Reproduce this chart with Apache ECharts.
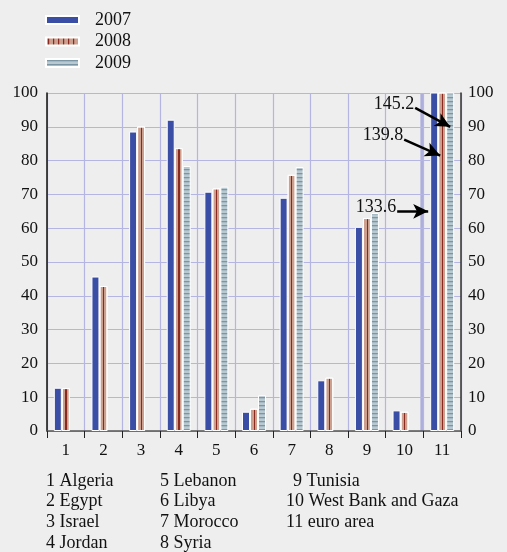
<!DOCTYPE html>
<html>
<head>
<meta charset="utf-8">
<script src="https://cdn.jsdelivr.net/npm/echarts@6/dist/echarts.min.js"></script>
<style>
  html, body { margin: 0; padding: 0; background: #eeeeee; }
  #chart { width: 507px; height: 552px; }
</style>
</head>
<body>
<div id="chart"></div>
<script>
const categories = ['1', '2', '3', '4', '5', '6', '7', '8', '9', '10', '11'];
const years = ['2007', '2008', '2009'];
const values2007 = [12.8, 45.7, 88.6, 92.1, 70.8, 5.7, 69.0, 15.0, 60.4, 6.1, 133.6];
const values2008 = [12.7, 42.9, 90.1, 83.7, 71.8, 6.6, 75.8, 15.8, 63.0, 5.7, 139.8];
const values2009 = [null, null, null, 78.4, 72.3, 10.6, 78.1, null, 64.5, null, 145.2];
const countryNames = ['Algeria', 'Egypt', 'Israel', 'Jordan', 'Lebanon', 'Libya', 'Morocco',
    'Syria', 'Tunisia', 'West Bank and Gaza', 'euro area'];

const FONT = 'Liberation Serif';
const BLUE = '#3b4ea5';
const PINK = '#cc9f8e';
const RED = '#8a2a1e';
const GREY = '#b9c9d1';
const GREY_LINE = '#7a95a4';

// stripe patterns
function makePattern(w, h, bg, draw) {
    const c = document.createElement('canvas');
    c.width = w; c.height = h;
    const ctx = c.getContext('2d');
    ctx.fillStyle = bg;
    ctx.fillRect(0, 0, w, h);
    draw(ctx);
    return { image: c, repeat: 'repeat' };
}
const hStripes = makePattern(4, 4, GREY, ctx => {
    ctx.fillStyle = GREY_LINE;
    ctx.fillRect(0, 1, 4, 1.3);
});
const vStripes = makePattern(5, 8, PINK, ctx => {
    ctx.fillStyle = RED;
    ctx.fillRect(2, 0, 1.2, 8);
});
const midStripe = {
    type: 'linear', x: 0, y: 0, x2: 1, y2: 0,
    colorStops: [
        { offset: 0, color: PINK }, { offset: 0.45, color: PINK },
        { offset: 0.45, color: RED }, { offset: 0.6, color: RED },
        { offset: 0.6, color: PINK }, { offset: 1, color: PINK }
    ]
};

const chart = echarts.init(document.getElementById('chart'));

const barBase = {
    type: 'bar',
    barWidth: 8,
    barGap: '0%',
    clip: true
};

chart.setOption({
    backgroundColor: '#eeeeee',
    animation: false,
    textStyle: { fontFamily: FONT },
    legend: {
        orient: 'vertical',
        left: 40,
        top: 6,
        itemWidth: 33,
        itemHeight: 8,
        itemGap: 3.5,
        icon: 'rect',
        textStyle: { fontFamily: FONT, fontSize: 18, lineHeight: 18, color: '#111', padding: [0, 0, 0, 11] },
        data: [
            { name: years[0] },
            { name: years[1], itemStyle: { color: vStripes } },
            { name: years[2] }
        ]
    },
    grid: { left: 47, right: 46, top: 93, bottom: 121 },
    xAxis: {
        type: 'category',
        data: categories,
        axisLine: { lineStyle: { color: '#555', width: 1.5 } },
        axisTick: { show: true, length: 7, lineStyle: { color: '#222' } },
        axisLabel: { fontFamily: FONT, fontSize: 17, color: '#111', margin: 11 },
        splitLine: { show: true, lineStyle: { color: '#b5b5e3', width: 1.2 } }
    },
    yAxis: [
        {
            type: 'value', min: 0, max: 100, interval: 10,
            axisLine: { show: true, lineStyle: { color: '#111', width: 1.5 } },
            axisTick: { show: false },
            axisLabel: { fontFamily: FONT, fontSize: 17, color: '#111', margin: 9 },
            splitLine: { lineStyle: { color: '#b5b5e3', width: 1.2 } }
        },
        {
            type: 'value', min: 0, max: 100, interval: 10, position: 'right',
            axisLine: { show: true, lineStyle: { color: '#333', width: 1.5 } },
            axisTick: { show: false },
            axisLabel: { fontFamily: FONT, fontSize: 17, color: '#111', margin: 7 },
            splitLine: { show: false }
        }
    ],
    series: [
        Object.assign({}, barBase, {
            name: years[0], data: values2007,
            itemStyle: { color: BLUE, borderColor: '#fff', borderWidth: 1 }
        }),
        Object.assign({}, barBase, {
            name: years[1], data: values2008,
            itemStyle: { color: midStripe, borderColor: '#fff', borderWidth: 1 }
        }),
        Object.assign({}, barBase, {
            name: years[2], data: values2009,
            itemStyle: { color: hStripes, borderColor: '#fff', borderWidth: 1 }
        })
    ]
});

// annotations for the euro-area bars that run off the scale
const last = categories.length - 1;
const callouts = [
    { value: values2007[last], tipDx: -14, tipY: 65, dx: -31, dy: 0 },
    { value: values2008[last], tipDx: -2, tipY: 81.5, dx: -36, dy: -16 },
    { value: values2009[last], tipDx: 8, tipY: 90, dx: -35, dy: -19 }
];

const lines = [];
const graphics = [];
callouts.forEach(c => {
    const p = chart.convertToPixel({ xAxisIndex: 0, yAxisIndex: 0 }, [last, c.tipY]);
    const tip = [p[0] + c.tipDx, p[1]];
    const start = [tip[0] + c.dx, tip[1] + c.dy];
    lines.push([{ x: start[0], y: start[1] }, { x: tip[0], y: tip[1] }]);
    graphics.push({
        type: 'text',
        x: start[0] - 1, y: start[1] - 4,
        style: {
            text: c.value.toFixed(1), font: '18px "' + FONT + '"', fill: '#111',
            align: 'right', verticalAlign: 'middle'
        }
    });
});

// heavier divider before the euro area
const a = chart.convertToPixel({ xAxisIndex: 0, yAxisIndex: 0 }, [last - 1, 100]);
const b = chart.convertToPixel({ xAxisIndex: 0, yAxisIndex: 0 }, [last, 0]);
graphics.unshift({
    type: 'rect', z: -1,
    shape: { x: (a[0] + b[0]) / 2 - 3, y: a[1], width: 3, height: b[1] - a[1] },
    style: { fill: '#aeaede' }
});

// country key below the axis
const colX = [46, 160, 286];
countryNames.forEach((name, i) => {
    const col = Math.floor(i / 4);
    const row = i % 4;
    const n = i + 1;
    graphics.push({
        type: 'text',
        x: colX[col] + (col === 2 && n < 10 ? 7 : 0),
        y: 481 + row * 20.7,
        style: {
            text: n + ' ' + name, font: '18px "' + FONT + '"', fill: '#111',
            align: 'left', verticalAlign: 'middle'
        }
    });
});

chart.setOption({
    series: [{
        markLine: {
            silent: true,
            symbol: ['none', 'arrow'],
            symbolSize: [11, 15],
            label: { show: false },
            lineStyle: { color: '#000', width: 2.5, type: 'solid' },
            data: lines
        }
    }],
    graphic: graphics
});
</script>
</body>
</html>
